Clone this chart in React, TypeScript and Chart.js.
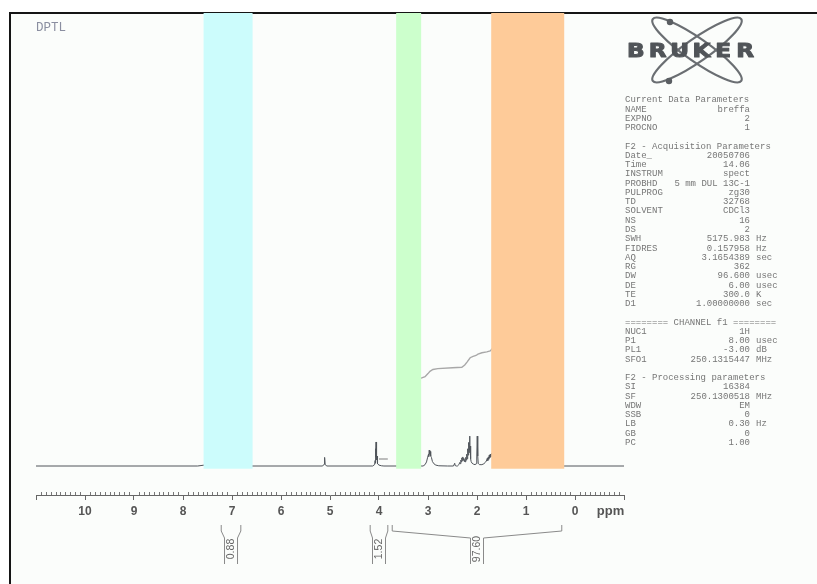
import React, { useEffect, useRef } from 'react';
import { Chart, registerables } from 'chart.js';

Chart.register(...registerables);

// ---------- data ----------
const TITLE = 'DPTL';
const LOGO_TEXT = 'BRUKER';
const AXIS_UNIT = 'ppm';
const TICK_VALUES = [10, 9, 8, 7, 6, 5, 4, 3, 2, 1, 0];
const TICK_LABELS = ['10', '9', '8', '7', '6', '5', '4', '3', '2', '1', '0'];

// 1H spectrum (ppm, relative intensity)
const SPEC_PPM = [
  11.0, 7.7, 7.3, 7.27, 7.26, 7.25, 7.2, 6.9, 6.7, 5.15, 5.12, 5.11, 5.1, 5.07,
  4.13, 4.09, 4.08, 4.075, 4.07, 4.065, 4.06, 4.055, 4.05, 4.045, 4.04, 4.03, 4.0, 3.95, 3.9,
  3.6, 3.5, 3.45, 3.4, 3.3,
  3.1, 3.06, 3.03, 3.01, 2.99, 2.985, 2.975, 2.965, 2.955, 2.945, 2.93, 2.91, 2.88, 2.84, 2.78, 2.6,
  2.48, 2.455, 2.445, 2.42,
  2.4, 2.37, 2.35, 2.34, 2.33, 2.32, 2.31, 2.3, 2.29, 2.28, 2.27, 2.26, 2.25, 2.24, 2.23, 2.22,
  2.21, 2.2, 2.19, 2.18, 2.17, 2.16, 2.15, 2.145, 2.14, 2.13, 2.12, 2.1, 2.07, 2.04,
  2.015, 2.005, 1.995, 1.985, 1.975, 1.95, 1.9, 1.86, 1.83, 1.81, 1.79, 1.78, 1.77, 1.76,
  1.75, 1.74, 1.73, 1.72, 1.7, 1.6, 1.5, 1.4, 1.3, 1.25, 1.2, 1.05, 1.0, 0.95, 0.87, 0.85,
  0.83, 0.7, 0.68, 0.66, 0.5, 0.3, -1.0,
];
const SPEC_INT = [
  0, 0, 0.6, 2.0, 4.5, 2.0, 0.4, 0.3, 0, 0, 0.4, 1.9, 0.4, 0,
  0, 0.3, 1.2, 0.6, 3.8, 2.0, 5.3, 2.4, 4.6, 1.4, 2.2, 0.5, 0.2, 0.05, 0,
  0, 0.8, 2.5, 0.8, 0,
  0, 0.3, 0.9, 1.8, 2.6, 2.1, 3.5, 2.6, 3.2, 2.2, 1.9, 1.0, 0.5, 0.2, 0.05, 0,
  0, 0.6, 0.1, 0,
  0, 0.3, 0.8, 0.5, 1.3, 0.9, 1.8, 1.2, 2.0, 1.3, 1.7, 1.0, 1.4, 0.9, 1.9, 1.3,
  2.6, 1.6, 3.8, 2.4, 5.2, 3.0, 6.6, 3.5, 4.4, 1.6, 1.0, 0.6, 0.4, 0.3,
  0.5, 2.0, 6.6, 2.2, 0.6, 0.3, 0.3, 0.5, 0.8, 1.1, 1.7, 1.2, 2.0, 1.5,
  2.4, 1.8, 2.6, 2.0, 2.8, 4.0, 6.0, 5.0, 12.0, 18.0, 10.0, 6.0, 9.0, 5.0, 12.0, 14.0,
  9.0, 8.0, 11.0, 7.0, 1.0, 0, 0,
];

// integral curves (ppm, running integral); null breaks the trace
const INTEGRAL_PPM = [4.0, 3.82, 3.8, 3.6, 3.4, 3.14, 3.06, 3.0, 2.96, 2.9, 2.8, 2.5, 2.31, 2.25, 2.2, 2.14, 2.08, 2.02, 1.98, 1.9, 1.8, 1.73, 1.6, 1.4, 1.2, 1.0, 0.8, 0.6];
const INTEGRAL_VAL = [1.55, 1.55, null, 17.5, 19.0, 19.4, 19.7, 20.4, 20.9, 21.3, 21.5, 21.7, 21.8, 22.3, 23.0, 23.9, 24.2, 24.4, 24.7, 25.0, 25.2, 25.4, 27.0, 40.0, 60.0, 75.0, 84.0, 88.0];

// highlighted regions (ppm)
const BAND_FROM = [7.58, 3.65, 1.71];
const BAND_TO = [6.58, 3.14, 0.22];
const BAND_BOTTOM = -0.6;

// integration regions (ppm) and values
const INT_FROM = [7.22, 4.18, 3.73];
const INT_TO = [6.82, 3.82, 0.27];
const INT_LABELS = ['0.88', '1.52', '97.60'];

// acquisition / processing parameters
const PARAM_NAMES = [
  'Current Data Parameters', 'NAME', 'EXPNO', 'PROCNO', '',
  'F2 - Acquisition Parameters', 'Date_', 'Time', 'INSTRUM', 'PROBHD', 'PULPROG', 'TD', 'SOLVENT',
  'NS', 'DS', 'SWH', 'FIDRES', 'AQ', 'RG', 'DW', 'DE', 'TE', 'D1', '',
  '======== CHANNEL f1 ========', 'NUC1', 'P1', 'PL1', 'SFO1', '',
  'F2 - Processing parameters', 'SI', 'SF', 'WDW', 'SSB', 'LB', 'GB', 'PC',
];
const PARAM_VALUES = [
  '', 'breffa', '2', '1', '',
  '', '20050706', '14.06', 'spect', '5 mm DUL 13C-1', 'zg30', '32768', 'CDCl3',
  '16', '2', '5175.983', '0.157958', '3.1654389', '362', '96.600', '6.00', '300.0', '1.00000000', '',
  '', '1H', '8.00', '-3.00', '250.1315447', '',
  '', '16384', '250.1300518', 'EM', '0', '0.30', '0', '1.00',
];
const PARAM_UNITS = [
  '', '', '', '', '',
  '', '', '', '', '', '', '', '',
  '', '', 'Hz', 'Hz', 'sec', '', 'usec', 'usec', 'K', 'sec', '',
  '', '', 'usec', 'dB', 'MHz', '',
  '', '', 'MHz', '', '', 'Hz', '', '',
];

// ---------- styles ----------
const BAND_COLORS = ['#ccfcfc', '#ccffcc', '#fecb99'];
const MONO = '"Liberation Mono", "DejaVu Sans Mono", monospace';
const SANS = '"Liberation Sans", Arial, sans-serif';

const framePlugin = {
  id: 'frame',
  beforeDraw(chart: any) {
    const { ctx, width, height } = chart;
    ctx.save();
    ctx.fillStyle = '#ffffff';
    ctx.fillRect(0, 0, width, height);
    ctx.fillStyle = '#fbfdfb';
    ctx.fillRect(10, 13, width - 10, height - 13);
    ctx.fillStyle = '#151515';
    ctx.fillRect(9, 12, width - 9, 2);
    ctx.fillRect(9, 12, 2, height - 12);
    ctx.restore();
  },
};

const bandsPlugin = {
  id: 'bands',
  afterDatasetsDraw(chart: any) {
    const { ctx, chartArea } = chart;
    const xs = chart.scales.x;
    const ys = chart.scales.y;
    ctx.save();
    const bottom = ys.getPixelForValue(BAND_BOTTOM);
    for (let i = 0; i < BAND_FROM.length; i++) {
      const a = xs.getPixelForValue(BAND_FROM[i]);
      const b = xs.getPixelForValue(BAND_TO[i]);
      ctx.fillStyle = BAND_COLORS[i];
      ctx.fillRect(Math.min(a, b), chartArea.top, Math.abs(b - a), bottom - chartArea.top);
    }
    ctx.restore();
  },
};

const overlayPlugin = {
  id: 'overlay',
  afterDraw(chart: any) {
    const { ctx } = chart;
    const xs = chart.scales.x;
    const axisY = xs.top;
    ctx.save();

    // minor ticks
    ctx.strokeStyle = '#777';
    ctx.lineWidth = 1;
    ctx.beginPath();
    for (let k = -10; k <= 110; k++) {
      if (k % 10 === 0) continue;
      const x = Math.round(xs.getPixelForValue(k / 10)) + 0.5;
      ctx.moveTo(x, axisY);
      ctx.lineTo(x, axisY - 3);
    }
    ctx.stroke();

    // unit label
    ctx.fillStyle = '#555';
    ctx.font = `bold 13px ${SANS}`;
    ctx.textAlign = 'center';
    ctx.textBaseline = 'middle';
    ctx.fillText(AXIS_UNIT, 610.5, axisY + 16);

    // integral brackets
    ctx.strokeStyle = '#8a8a8a';
    ctx.lineWidth = 1;
    for (let i = 0; i < INT_FROM.length; i++) {
      const a = xs.getPixelForValue(INT_FROM[i]);
      const b = xs.getPixelForValue(INT_TO[i]);
      const l = Math.min(a, b);
      const r = Math.max(a, b);
      const c = (l + r) / 2;
      const yTop = axisY + 30;
      const yKnee = axisY + 36;
      const yStem = axisY + 43;
      const yBot = axisY + 69;
      ctx.beginPath();
      ctx.moveTo(l, yTop);
      ctx.lineTo(l, yKnee);
      ctx.lineTo(c - 6.5, yStem);
      ctx.lineTo(c - 6.5, yBot);
      ctx.moveTo(r, yTop);
      ctx.lineTo(r, yKnee);
      ctx.lineTo(c + 6.5, yStem);
      ctx.lineTo(c + 6.5, yBot);
      ctx.stroke();
      ctx.save();
      ctx.translate(c, axisY + 54);
      ctx.rotate(-Math.PI / 2);
      ctx.fillStyle = '#666';
      ctx.font = `10.5px ${SANS}`;
      ctx.textAlign = 'center';
      ctx.textBaseline = 'middle';
      ctx.fillText(INT_LABELS[i], 0, 0);
      ctx.restore();
    }

    // title
    ctx.fillStyle = '#8a8ea0';
    ctx.font = `12.5px ${MONO}`;
    ctx.textAlign = 'left';
    ctx.textBaseline = 'middle';
    ctx.fillText(TITLE, 36, 28);

    // logo
    ctx.strokeStyle = '#6a6e72';
    ctx.lineWidth = 2.2;
    const cx = 697;
    const cy = 50;
    for (const ang of [35, -35]) {
      ctx.beginPath();
      ctx.ellipse(cx, cy, 54, 11.5, (ang * Math.PI) / 180, 0, Math.PI * 2);
      ctx.stroke();
    }
    ctx.fillStyle = '#5a5e62';
    ctx.beginPath();
    ctx.arc(670, 22, 3.2, 0, Math.PI * 2);
    ctx.arc(669, 81, 3.2, 0, Math.PI * 2);
    ctx.fill();
    ctx.fillStyle = '#505458';
    ctx.strokeStyle = '#505458';
    ctx.lineWidth = 1;
    ctx.lineJoin = 'round';
    ctx.font = `bold 19px "DejaVu Sans", ${SANS}`;
    ctx.textAlign = 'center';
    ctx.textBaseline = 'alphabetic';
    const letters = LOGO_TEXT.split('');
    const step = (756 - 625) / letters.length;
    letters.forEach((ch, i) => {
      ctx.save();
      ctx.translate(625 + step * (i + 0.5), 57);
      ctx.scale(1.22, 1);
      ctx.fillText(ch, 0, 0);
      ctx.strokeText(ch, 0, 0);
      ctx.restore();
    });

    // parameter block
    ctx.fillStyle = '#767676';
    ctx.font = `9px ${MONO}`;
    ctx.textBaseline = 'middle';
    const lh = 9.257;
    for (let i = 0; i < PARAM_NAMES.length; i++) {
      const y = 100 + i * lh;
      if (PARAM_NAMES[i]) {
        ctx.textAlign = 'left';
        ctx.fillText(PARAM_NAMES[i], 625, y);
      }
      if (PARAM_VALUES[i]) {
        ctx.textAlign = 'right';
        ctx.fillText(PARAM_VALUES[i], 750, y);
      }
      if (PARAM_UNITS[i]) {
        ctx.textAlign = 'left';
        ctx.fillText(PARAM_UNITS[i], 756, y);
      }
    }
    ctx.restore();
  },
};

export default function App() {
  const ref = useRef<HTMLCanvasElement | null>(null);

  useEffect(() => {
    if (!ref.current) return;
    const spectrum = SPEC_PPM.map((x, i) => ({ x, y: SPEC_INT[i] }));
    const integral = INTEGRAL_PPM.map((x, i) => ({ x, y: INTEGRAL_VAL[i] }));
    const chart = new Chart(ref.current, {
      type: 'line',
      data: {
        datasets: [
          {
            data: spectrum as any,
            borderColor: '#50555b',
            borderWidth: 1,
            pointRadius: 0,
            tension: 0,
          },
          {
            data: integral as any,
            borderColor: '#a8a8a8',
            borderWidth: 1.4,
            pointRadius: 0,
            tension: 0,
            spanGaps: false,
          },
        ],
      },
      options: {
        animation: false,
        responsive: false,
        devicePixelRatio: 1,
        layout: { padding: { left: 36, right: 193, top: 13, bottom: 0 } },
        plugins: {
          legend: { display: false },
          tooltip: { enabled: false },
        },
        scales: {
          x: {
            type: 'linear',
            reverse: true,
            min: -1,
            max: 11,
            afterFit: (scale: any) => {
              scale.height = 89;
            },
            ticks: {
              stepSize: 1,
              autoSkip: false,
              maxRotation: 0,
              padding: 4,
              color: '#555',
              font: { family: SANS, size: 12, weight: 'bold' },
              callback: (v: any) => {
                const idx = TICK_VALUES.indexOf(Number(v));
                return idx >= 0 ? TICK_LABELS[idx] : '';
              },
            },
            grid: {
              drawOnChartArea: false,
              drawTicks: true,
              tickLength: 5,
              tickColor: '#666',
            },
            border: { display: true, color: '#666', width: 1 },
          },
          y: {
            display: false,
            min: -6.4,
            max: 100,
          },
        },
      },
      plugins: [framePlugin, bandsPlugin, overlayPlugin],
    });
    return () => chart.destroy();
  }, []);

  return (
    <div style={{ position: 'absolute', left: 0, top: 0, width: 817, height: 584 }}>
      <canvas ref={ref} width={817} height={584} style={{ display: 'block' }} />
    </div>
  );
}
